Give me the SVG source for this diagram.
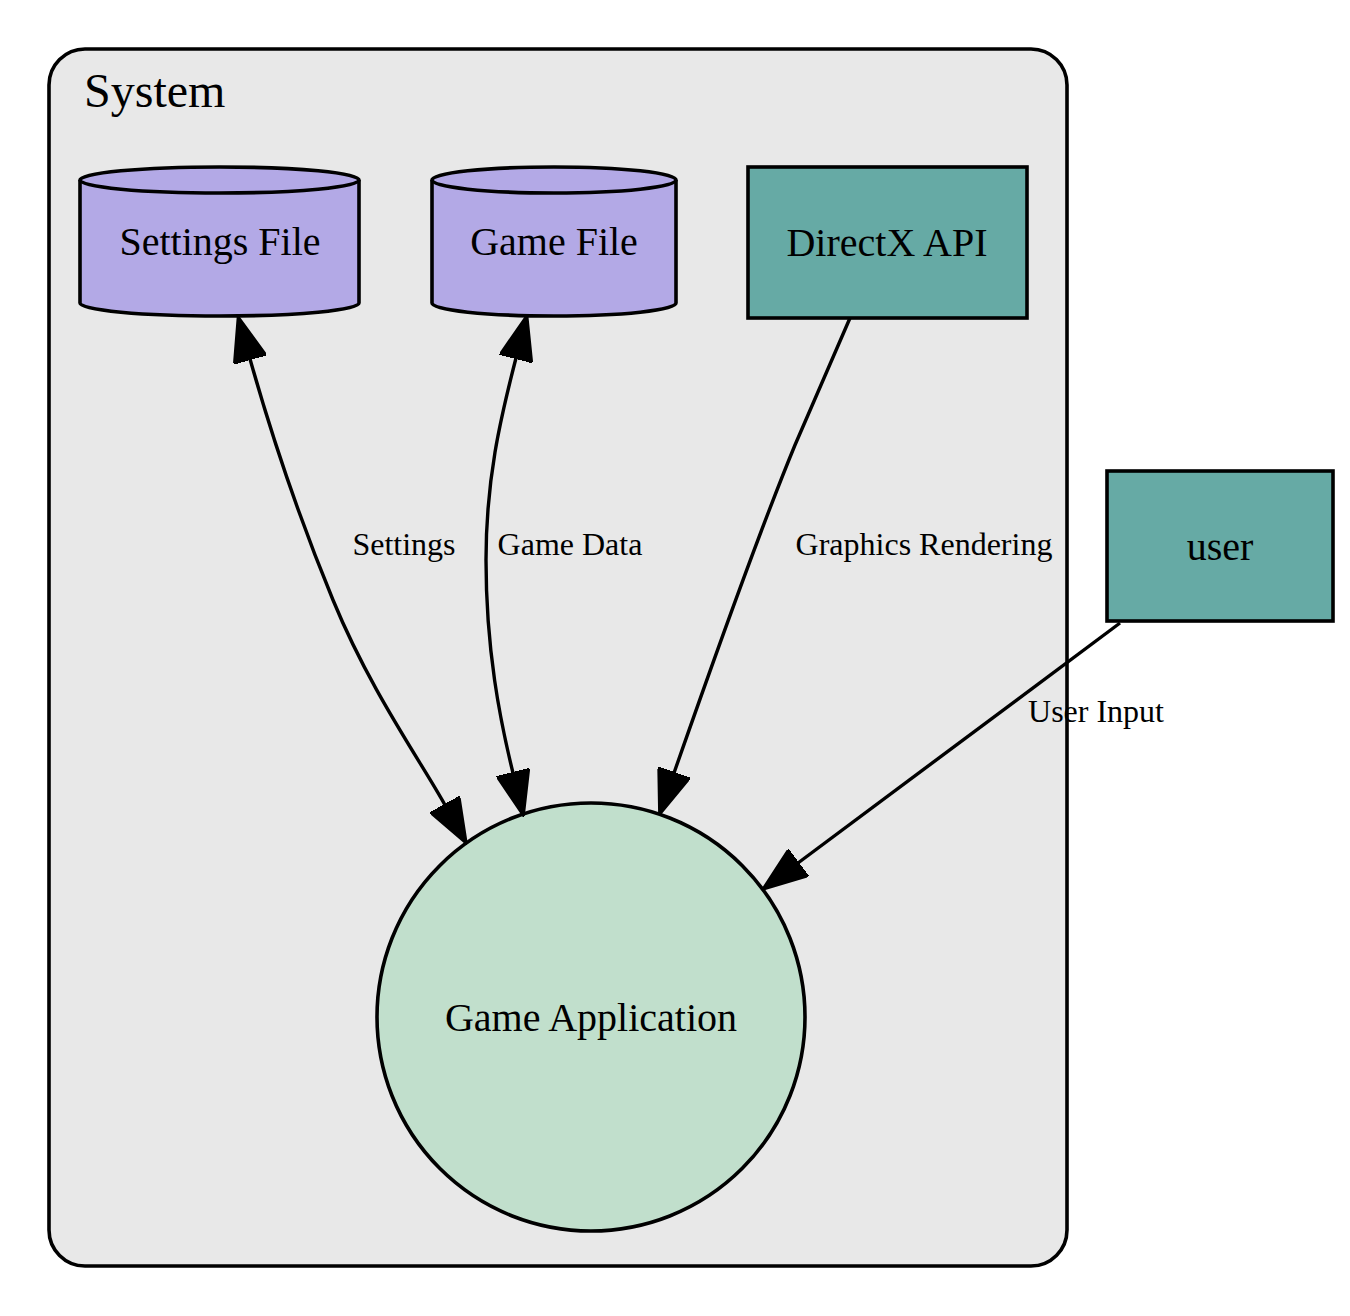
<svg xmlns="http://www.w3.org/2000/svg" width="1350" height="1316" viewBox="0 0 1350 1316">
<style>
.node{stroke:#000;stroke-width:3.6}
.cyl{fill:#b3a9e6}
.box{fill:#66aaa5}
.nl{font-family:"Liberation Serif","Times New Roman",serif;font-size:40px;text-anchor:middle;fill:#000}
.el{font-family:"Liberation Serif","Times New Roman",serif;font-size:32px;text-anchor:middle;fill:#000}
.edge{fill:none;stroke:#000;stroke-width:3.4}
</style>
<defs>
<marker id="arr" viewBox="0 0 46 34" refX="1" refY="17" markerWidth="46" markerHeight="34" markerUnits="userSpaceOnUse" orient="auto-start-reverse">
<path d="M0,0 L46,17 L0,34 Z" fill="#000" stroke="#000" stroke-width="2"/>
</marker>
</defs>
<rect width="1350" height="1316" fill="#fff"/>
<g id="cluster_system">
<rect x="49" y="49" width="1018" height="1217" rx="36" ry="36" fill="#e8e8e8" stroke="#000" stroke-width="3.6"/>
<text x="84" y="107" font-family="'Liberation Serif','Times New Roman',serif" font-size="48" fill="#000">System</text>
</g>
<g id="settings_file">
<path class="node cyl" d="M80,180 A139.5,13 0 0 1 359,180 L359,303 A139.5,13 0 0 1 80,303 Z"/>
<path d="M80,180 A139.5,13 0 0 0 359,180" fill="none" stroke="#000" stroke-width="3.6"/>
<text class="nl" x="220" y="255">Settings File</text>
</g>
<g id="game_file">
<path class="node cyl" d="M432,180 A122,13 0 0 1 676,180 L676,303 A122,13 0 0 1 432,303 Z"/>
<path d="M432,180 A122,13 0 0 0 676,180" fill="none" stroke="#000" stroke-width="3.6"/>
<text class="nl" x="554" y="255">Game File</text>
</g>
<g id="directx_api">
<rect class="node box" x="748" y="167" width="279" height="151"/>
<text class="nl" x="887" y="256">DirectX API</text>
</g>
<g id="user">
<rect class="node box" x="1107" y="471" width="226" height="150"/>
<text class="nl" x="1220" y="560">user</text>
</g>
<g id="game_application">
<circle class="node" cx="591" cy="1017" r="214" fill="#c1dfcc"/>
<text class="nl" x="591" y="1031">Game Application</text>
</g>
<g id="connectors">
<path class="edge" d="M250,359 C270,430 300,520 333,600 C370,690 420,760 445,805" marker-start="url(#arr)" marker-end="url(#arr)"/>
<text class="el" x="404" y="555">Settings</text>
<path class="edge" d="M516,358 C500,420 486,480 486,560 C486,650 500,720 513,773" marker-start="url(#arr)" marker-end="url(#arr)"/>
<text class="el" x="570" y="555">Game Data</text>
<path class="edge" d="M850,318 C830,365 810,410 795,445 C760,530 710,670 674,773" marker-end="url(#arr)"/>
<text class="el" x="924" y="555">Graphics Rendering</text>
<path class="edge" d="M1120,623 L798,863" marker-end="url(#arr)"/>
<text class="el" x="1096" y="722">User Input</text>
</g>
</svg>
